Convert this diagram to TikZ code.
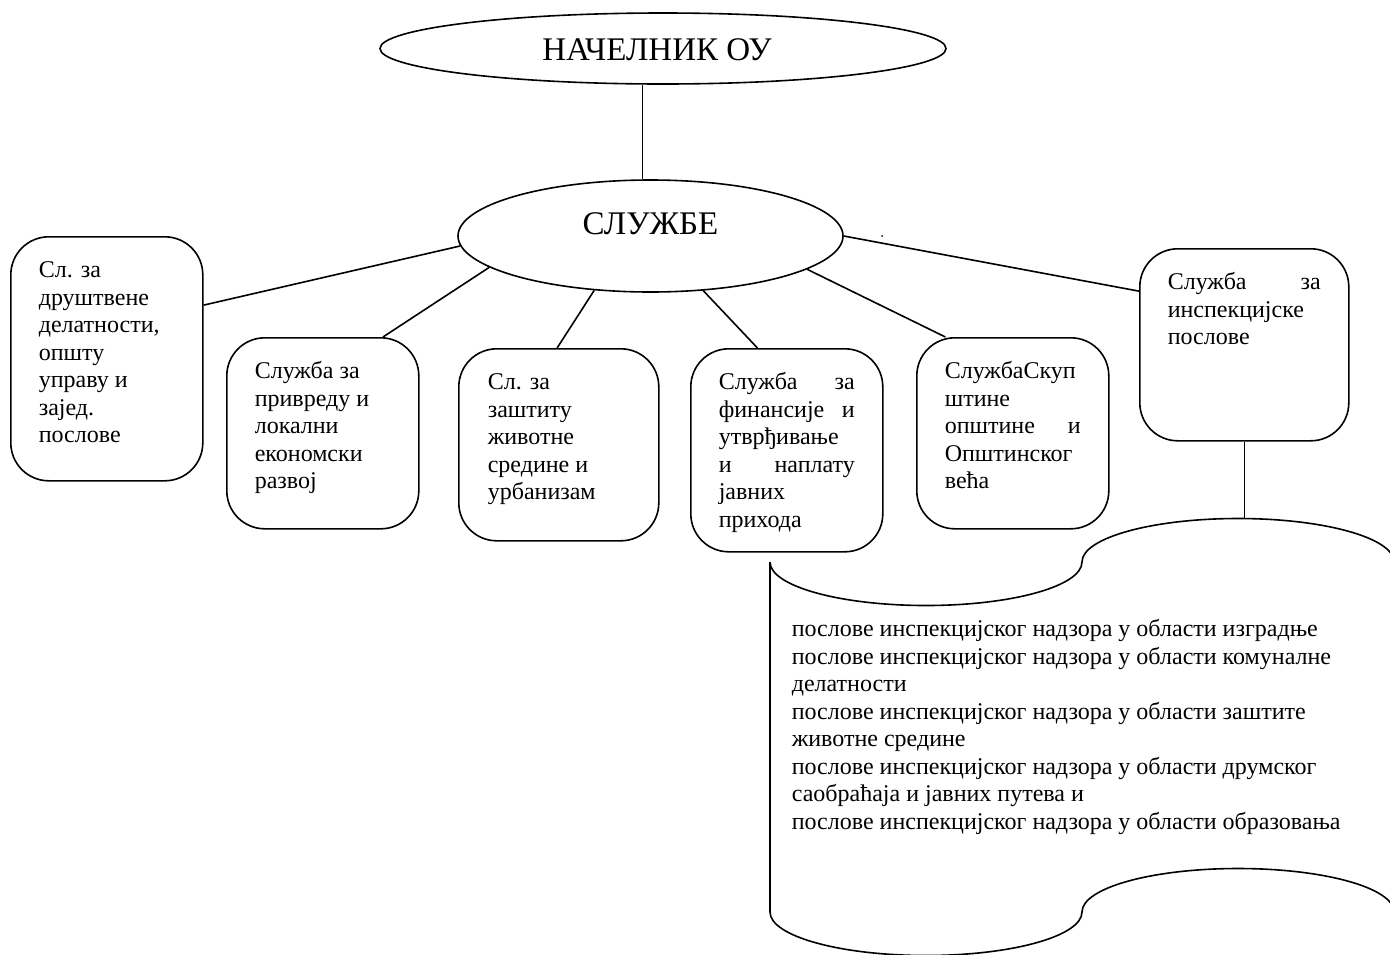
\documentclass[tikz,border=0pt]{standalone}
\usepackage{fontspec}
\setmainfont{Liberation Serif}
\usetikzlibrary{shapes.geometric}
\newcommand\bodyfont{\fontsize{24}{27.5}\selectfont}
\newcommand\svcbody[3]{\begin{minipage}[c][#2][t]{#1}\bodyfont\raggedright\rule{0pt}{41pt}#3\end{minipage}}
\begin{document}
\begin{tikzpicture}[x=1pt,y=1pt,line width=1.6pt,
  svc/.style={draw,rounded corners=38pt,inner xsep=28pt,inner ysep=0pt,anchor=north west},
  oval/.style={draw,ellipse,inner sep=0pt,font=\fontsize{33}{38}\selectfont},
  link/.style={line width=1.6pt},
  tape/.style={line width=1.6pt}]
\useasboundingbox (0,0) rectangle (1390,-954);

\node[oval,minimum width=566pt,minimum height=71pt,text height=30pt,text depth=6pt] (head) at (663,-48.5) {НАЧЕЛНИК ОУ\rule{12pt}{0pt}};
\node[oval,minimum width=385pt,minimum height=112pt,text height=22pt,text depth=25pt] (sl) at (650.5,-236) {СЛУЖБЕ};

\node[svc] (b1) at (10,-236) {\svcbody{136pt}{244pt}{Сл. за\\ друштвене\\ делатности,\\ општу\\ управу и\\ зајед.\\ послове}};
\node[svc] (b2) at (226,-337) {\svcbody{136pt}{191pt}{Служба за\\ привреду и\\ локални\\ економски\\ развој}};
\node[svc,inner xsep=29pt] (b3) at (458,-348) {\svcbody{142pt}{192pt}{Сл. за\\ заштиту\\ животне\\ средине и\\ урбанизам}};
\node[svc] (b4) at (690,-348) {\svcbody{136pt}{203pt}{Служба \hfill за\\ финансије \hfill и\\ утврђивање\\ и \hfill наплату\\ јавних\\ прихода}};
\node[svc] (b5) at (916,-337) {\svcbody{136pt}{191pt}{СлужбаСкуп\\ штине\\ општине \hfill и\\ Општинског\\ већа}};
\node[svc] (b6) at (1139,-248) {\svcbody{153pt}{192pt}{Служба \hfill за\\ инспекцијске\\ послове}};

\draw[link] (sl.98.6 |- head.south) -- (sl.98.6);
\draw[link] (sl.183.6) -- (b1.29.4);
\draw[link] (sl.191.3) -- (b2.58.3);
\draw[link] (sl.224.2) -- (b3.91.2);
\draw[link] (sl.314.7) -- (b4.106.5);
\draw[link] (sl.348.4) -- (b5.125);
\draw[link] (sl.0) -- (b6.153.5);

\fill (882,-236) circle (1pt);

\draw[tape] (770,-562) arc[start angle=180,end angle=360,x radius=156pt,y radius=43.5pt]
  arc[start angle=180,end angle=0,x radius=156pt,y radius=43.5pt] -- (1394,-912)
  arc[start angle=0,end angle=180,x radius=156pt,y radius=43.5pt]
  arc[start angle=360,end angle=180,x radius=156pt,y radius=43.5pt] -- cycle;
\coordinate (tapetop) at (1241,-518.5);
\draw[link] (b6.south) -- (b6.south |- tapetop);

\node[anchor=north west,inner sep=0pt,align=left,font=\bodyfont] (tapetext) at (791,-595) {\rule{0pt}{41pt}послове инспекцијског надзора у области изградње\\
послове инспекцијског надзора у области комуналне\\
делатности\\
послове инспекцијског надзора у области заштите\\
животне средине\\
послове инспекцијског надзора у области друмског\\
саобраћаја и јавних путева и\\
послове инспекцијског надзора у области образовања};
\end{tikzpicture}
\end{document}
